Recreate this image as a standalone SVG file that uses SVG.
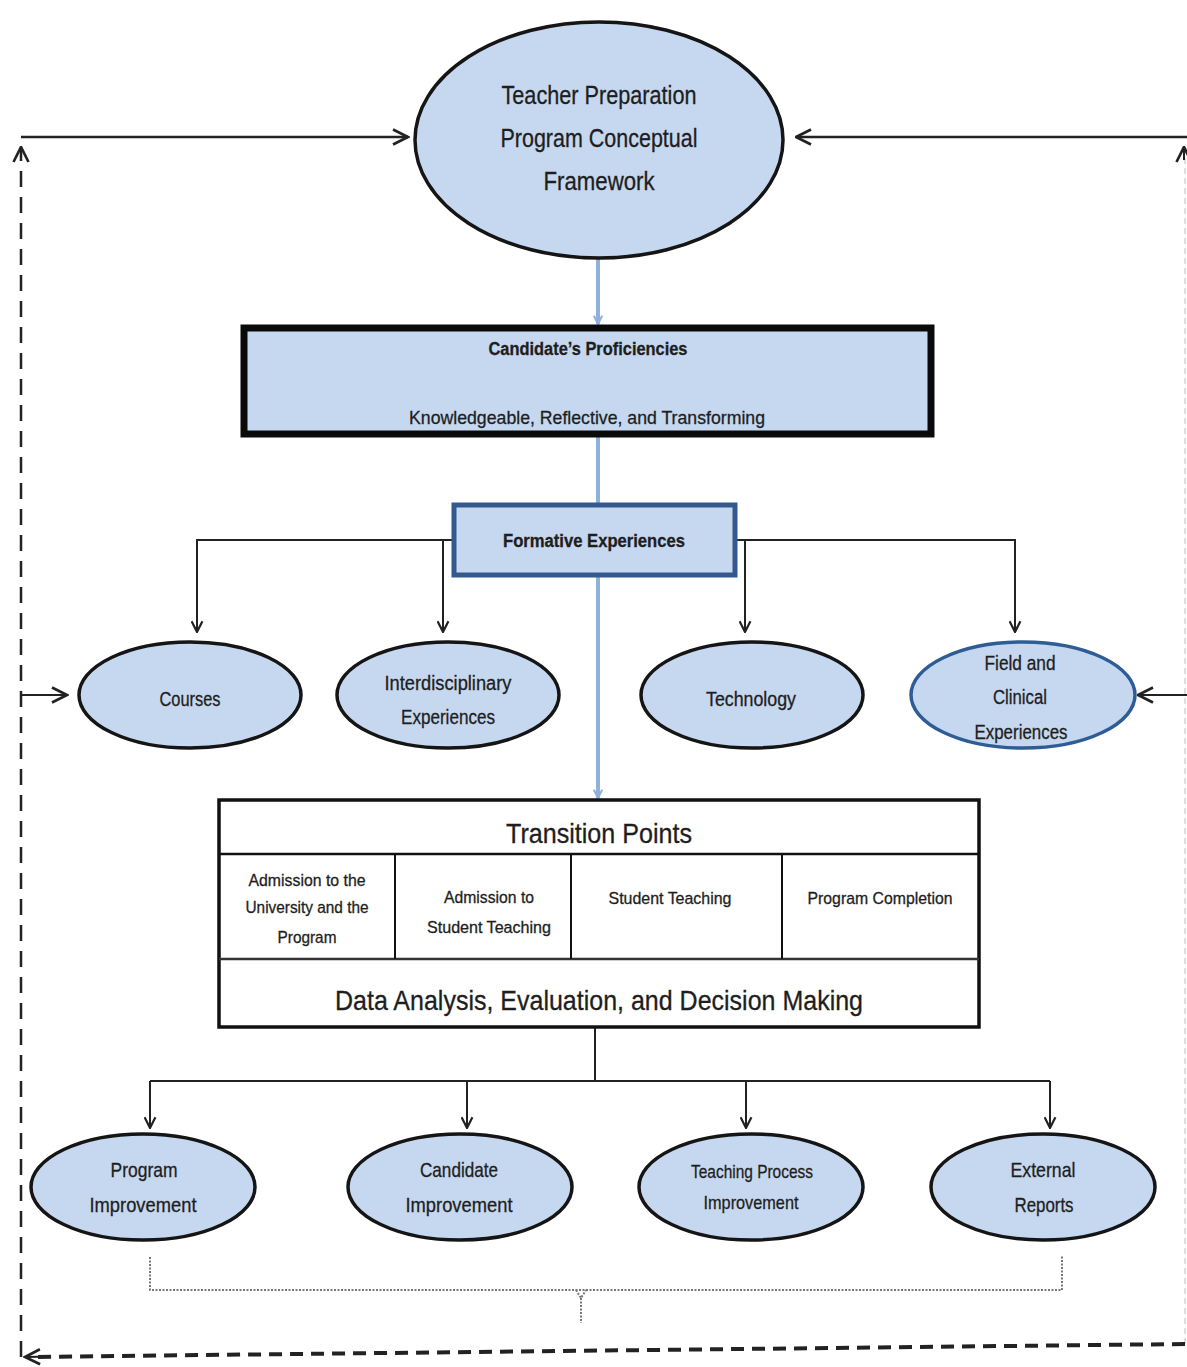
<svg xmlns="http://www.w3.org/2000/svg" width="1187" height="1367" viewBox="0 0 1187 1367">
<style>
.bg{fill:#ffffff}
.ell{fill:#c6d8ef;stroke:#151515;stroke-width:3.5}
.ellb{fill:#c6d8ef;stroke:#2e5d96;stroke-width:3.5}
.t{font-family:"Liberation Sans Narrow","Liberation Sans",Arial,sans-serif;fill:#1e1e1e;text-anchor:middle;stroke:#1e1e1e;stroke-width:0.3}
.ln{fill:none;stroke:#222;stroke-width:2}
.lnb{fill:none;stroke:#222;stroke-width:2.5}
.blue{fill:none;stroke:#8fb1dc;stroke-width:4}
.dash{fill:none;stroke:#222;stroke-width:2.5;stroke-dasharray:16 10}
.dashb{fill:none;stroke:#222;stroke-width:4;stroke-dasharray:13 8}
.faint{fill:none;stroke:#d4d4d4;stroke-width:1.5;stroke-dasharray:6 4}
.dot{fill:none;stroke:#777;stroke-width:2;stroke-dasharray:2 1.5}
</style>
<defs>
<marker id="a" viewBox="0 0 12 12" refX="11" refY="6" markerWidth="13" markerHeight="13" markerUnits="userSpaceOnUse" orient="auto">
<path d="M1,1 L11,6 L1,11" fill="none" stroke="#222" stroke-width="2"/>
</marker>
<marker id="aL" viewBox="0 0 12 12" refX="11" refY="6" markerWidth="18" markerHeight="18" markerUnits="userSpaceOnUse" orient="auto">
<path d="M1,1 L11,6 L1,11" fill="none" stroke="#222" stroke-width="1.8"/>
</marker>
<marker id="ab" viewBox="0 0 12 12" refX="11" refY="6" markerWidth="10" markerHeight="10" markerUnits="userSpaceOnUse" orient="auto">
<path d="M1,1 L11,6 L1,11" fill="none" stroke="#8fb1dc" stroke-width="2.5"/>
</marker>
</defs>
<rect class="bg" x="0" y="0" width="1187" height="1367"/>

<g id="connectors">
<path class="lnb" d="M21,137 H408" marker-end="url(#aL)"/>
<path class="lnb" d="M1187,137 H796" marker-end="url(#aL)"/>
<path class="dash" d="M21,1357 V150"/>
<path class="ln" d="M21,160 V147" marker-end="url(#aL)"/>
<path class="faint" d="M1185,1344 V150"/>
<path class="ln" d="M1184,160 V147" marker-end="url(#aL)"/>
<path class="dashb" d="M1185,1344 L28,1357"/>
<path class="ln" d="M40,1356.8 L25,1357" marker-end="url(#aL)"/>
<path class="ln" d="M21,695 H67" marker-end="url(#aL)"/>
<path class="ln" d="M1187,695 H1138" marker-end="url(#aL)"/>
<path class="blue" d="M598,258 V324" marker-end="url(#ab)"/>
<path class="blue" d="M598,437 V503"/>
<path class="blue" d="M598,577 V798" marker-end="url(#ab)"/>
<path class="ln" d="M452,540 H197 V632" marker-end="url(#a)"/>
<path class="ln" d="M443,540 V632" marker-end="url(#a)"/>
<path class="ln" d="M737,540 H1015 V632" marker-end="url(#a)"/>
<path class="ln" d="M745,540 V632" marker-end="url(#a)"/>
<path class="ln" d="M595,1027 V1081"/>
<path class="ln" d="M150,1081 H1050"/>
<path class="ln" d="M150,1081 V1128" marker-end="url(#a)"/>
<path class="ln" d="M467,1081 V1128" marker-end="url(#a)"/>
<path class="ln" d="M746,1081 V1128" marker-end="url(#a)"/>
<path class="ln" d="M1050,1081 V1128" marker-end="url(#a)"/>
<path class="dot" d="M150,1257 V1290 H1062 V1255"/>
<path class="dot" d="M576,1290 L581,1298 L586,1290 M581,1298 V1323"/>
</g>

<g id="framework">
<ellipse class="ell" cx="599" cy="140" rx="184" ry="118"/>
<text class="t" x="599" y="104" font-size="26" textLength="195" lengthAdjust="spacingAndGlyphs">Teacher Preparation</text>
<text class="t" x="599" y="147" font-size="26" textLength="197" lengthAdjust="spacingAndGlyphs">Program Conceptual</text>
<text class="t" x="599" y="190" font-size="26" textLength="111" lengthAdjust="spacingAndGlyphs">Framework</text>
</g>

<g id="proficiencies">
<rect x="244" y="328" width="687" height="106" fill="#c6d8ef" stroke="#0a0a0a" stroke-width="7"/>
<text class="t" x="588" y="355" font-size="18" font-weight="bold" textLength="199" lengthAdjust="spacingAndGlyphs">Candidate’s Proficiencies</text>
<text class="t" x="587" y="424" font-size="19" textLength="356" lengthAdjust="spacingAndGlyphs">Knowledgeable, Reflective, and Transforming</text>
</g>

<g id="formative">
<rect x="454" y="505" width="281" height="70" fill="#c6d8ef" stroke="#34598f" stroke-width="5"/>
<text class="t" x="594" y="547" font-size="18" font-weight="bold" textLength="182" lengthAdjust="spacingAndGlyphs">Formative Experiences</text>
</g>

<g id="courses">
<ellipse class="ell" cx="190" cy="695" rx="111" ry="53"/>
<text class="t" x="190" y="706" font-size="20" textLength="61" lengthAdjust="spacingAndGlyphs">Courses</text>
</g>
<g id="interdisciplinary">
<ellipse class="ell" cx="448" cy="695" rx="111" ry="53"/>
<text class="t" x="448" y="690" font-size="20" textLength="127" lengthAdjust="spacingAndGlyphs">Interdisciplinary</text>
<text class="t" x="448" y="724" font-size="20" textLength="94" lengthAdjust="spacingAndGlyphs">Experiences</text>
</g>
<g id="technology">
<ellipse class="ell" cx="752" cy="695" rx="111" ry="53"/>
<text class="t" x="751" y="706" font-size="20" textLength="90" lengthAdjust="spacingAndGlyphs">Technology</text>
</g>
<g id="field">
<ellipse class="ellb" cx="1023" cy="695" rx="112" ry="53"/>
<text class="t" x="1020" y="670" font-size="20" textLength="71" lengthAdjust="spacingAndGlyphs">Field and</text>
<text class="t" x="1020" y="704" font-size="20" textLength="54" lengthAdjust="spacingAndGlyphs">Clinical</text>
<text class="t" x="1021" y="739" font-size="20" textLength="93" lengthAdjust="spacingAndGlyphs">Experiences</text>
</g>

<g id="transition">
<rect x="219" y="800" width="760" height="227" fill="#ffffff" stroke="#111" stroke-width="3.5"/>
<line x1="219" y1="854" x2="979" y2="854" stroke="#111" stroke-width="2.5"/>
<line x1="219" y1="959" x2="979" y2="959" stroke="#333" stroke-width="2.5"/>
<line x1="395" y1="854" x2="395" y2="959" stroke="#111" stroke-width="2"/>
<line x1="571" y1="854" x2="571" y2="959" stroke="#111" stroke-width="2"/>
<line x1="782" y1="854" x2="782" y2="959" stroke="#111" stroke-width="2"/>
<text class="t" x="599" y="843" font-size="28" textLength="186" lengthAdjust="spacingAndGlyphs">Transition Points</text>
<text class="t" x="307" y="886" font-size="17" textLength="117" lengthAdjust="spacingAndGlyphs">Admission to the</text>
<text class="t" x="307" y="913" font-size="17" textLength="123" lengthAdjust="spacingAndGlyphs">University and the</text>
<text class="t" x="307" y="943" font-size="17" textLength="59" lengthAdjust="spacingAndGlyphs">Program</text>
<text class="t" x="489" y="903" font-size="17" textLength="90" lengthAdjust="spacingAndGlyphs">Admission to</text>
<text class="t" x="489" y="933" font-size="17" textLength="124" lengthAdjust="spacingAndGlyphs">Student Teaching</text>
<text class="t" x="670" y="904" font-size="17" textLength="123" lengthAdjust="spacingAndGlyphs">Student Teaching</text>
<text class="t" x="880" y="904" font-size="17" textLength="145" lengthAdjust="spacingAndGlyphs">Program Completion</text>
<text class="t" x="599" y="1010" font-size="28" textLength="528" lengthAdjust="spacingAndGlyphs">Data Analysis, Evaluation, and Decision Making</text>
</g>

<g id="program-improvement">
<ellipse class="ell" cx="143" cy="1187" rx="112" ry="53"/>
<text class="t" x="144" y="1177" font-size="21" textLength="67" lengthAdjust="spacingAndGlyphs">Program</text>
<text class="t" x="143" y="1212" font-size="21" textLength="107" lengthAdjust="spacingAndGlyphs">Improvement</text>
</g>
<g id="candidate-improvement">
<ellipse class="ell" cx="460" cy="1187" rx="112" ry="53"/>
<text class="t" x="459" y="1177" font-size="21" textLength="78" lengthAdjust="spacingAndGlyphs">Candidate</text>
<text class="t" x="459" y="1212" font-size="21" textLength="107" lengthAdjust="spacingAndGlyphs">Improvement</text>
</g>
<g id="teaching-improvement">
<ellipse class="ell" cx="751" cy="1187" rx="112" ry="53"/>
<text class="t" x="752" y="1178" font-size="19" textLength="122" lengthAdjust="spacingAndGlyphs">Teaching Process</text>
<text class="t" x="751" y="1209" font-size="19" textLength="95" lengthAdjust="spacingAndGlyphs">Improvement</text>
</g>
<g id="external-reports">
<ellipse class="ell" cx="1043" cy="1187" rx="112" ry="53"/>
<text class="t" x="1043" y="1177" font-size="21" textLength="65" lengthAdjust="spacingAndGlyphs">External</text>
<text class="t" x="1044" y="1212" font-size="21" textLength="59" lengthAdjust="spacingAndGlyphs">Reports</text>
</g>
</svg>
